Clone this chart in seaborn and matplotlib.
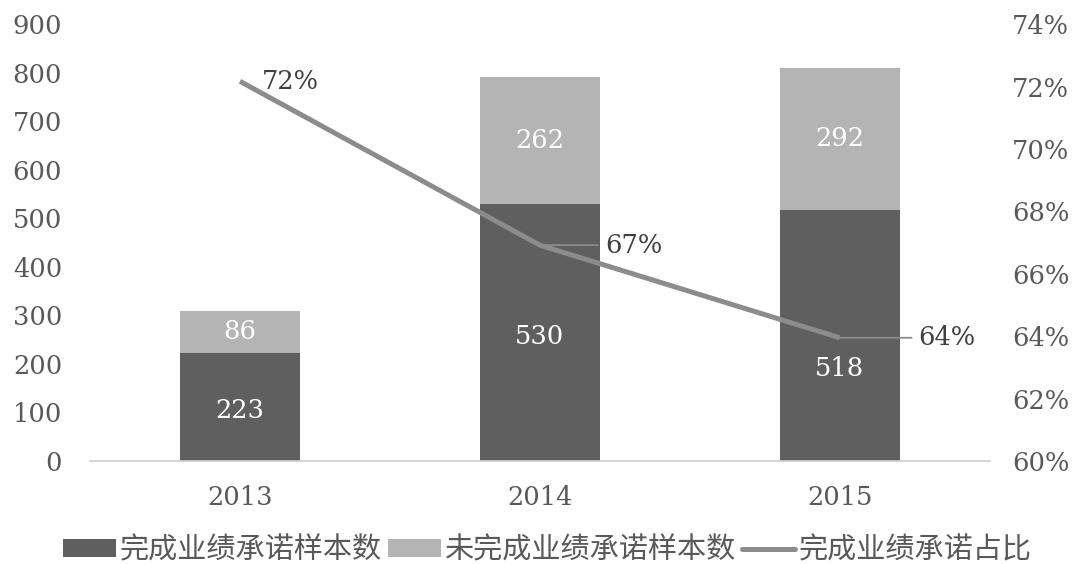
import matplotlib
matplotlib.use("Agg")
import matplotlib.pyplot as plt
import seaborn as sns
import pandas as pd
import numpy as np
from matplotlib.patches import Patch
from matplotlib.lines import Line2D

years = ["2013", "2014", "2015"]
done = [223, 530, 518]
undone = [86, 262, 292]
ratio = [0.7217, 0.6692, 0.6395]
ratio_labels = ["72%", "67%", "64%"]
left_ticks = [0, 100, 200, 300, 400, 500, 600, 700, 800, 900]
right_ticks = [0.60, 0.62, 0.64, 0.66, 0.68, 0.70, 0.72, 0.74]
legend_labels = ["完成业绩承诺样本数", "未完成业绩承诺样本数", "完成业绩承诺占比"]

DARK = "#5f5f5f"
LIGHT = "#b4b4b4"
LINEC = "#8c8c8c"
TXT = "#595959"
SERIF = "DejaVu Serif"
FS = 18.5

sns.set_theme(style="white")
plt.rcParams['font.family'] = ['Noto Sans CJK SC', 'DejaVu Sans']

df = pd.DataFrame({"year": years, "done": done, "undone": undone})
df["total"] = df["done"] + df["undone"]

fig = plt.figure(figsize=(10.78, 5.64), dpi=100)
ax = fig.add_axes([0.0835, 0.1826, 0.8345, 0.7745])

sns.barplot(data=df, x="year", y="total", color=LIGHT, width=0.4, ax=ax,
            saturation=1, edgecolor="none")
sns.barplot(data=df, x="year", y="done", color=DARK, width=0.4, ax=ax,
            saturation=1, edgecolor="none")

ax.set_ylim(0, 900)
ax.set_xlim(-0.5, 2.5)
ax.set_yticks(left_ticks)
ax.set_xlabel("")
ax.set_ylabel("")
for s in ["top", "left", "right"]:
    ax.spines[s].set_visible(False)
ax.spines["bottom"].set_color("#d0d0d0")
ax.spines["bottom"].set_linewidth(1.2)
ax.tick_params(axis="y", length=0, pad=20, labelcolor=TXT, labelsize=FS)
ax.tick_params(axis="x", length=0, pad=17, labelcolor=TXT, labelsize=FS)
for lab in ax.get_yticklabels() + ax.get_xticklabels():
    lab.set_fontfamily(SERIF)

# bar labels
for i in range(len(years)):
    off = -33 if i == 2 else -4
    ax.annotate(str(done[i]), (i, done[i] / 2), xytext=(0, off), textcoords="offset pixels",
                ha="center", va="center", color="white", fontsize=FS, family=SERIF)
    ax.annotate(str(undone[i]), (i, done[i] + undone[i] / 2), ha="center", va="center",
                color="white", fontsize=FS, family=SERIF)

ax2 = ax.twinx()
ax2.plot(range(len(years)), ratio, color=LINEC, lw=3.6, solid_capstyle="butt")
ax2.set_ylim(0.60, 0.74)
ax2.set_yticks(right_ticks)
ax2.set_yticklabels([f"{int(round(t*100))}%" for t in right_ticks])
for s in ["top", "left", "right", "bottom"]:
    ax2.spines[s].set_visible(False)
ax2.tick_params(axis="y", length=0, pad=16, labelcolor=TXT, labelsize=FS)
for lab in ax2.get_yticklabels():
    lab.set_fontfamily(SERIF)
ax2.grid(False)
ax.grid(False)

# line labels
ax2.annotate(ratio_labels[0], (0, ratio[0]), xytext=(22, 0), textcoords="offset pixels",
             ha="left", va="center", color="#404040", fontsize=FS, family=SERIF)
leader = [None, 58, 72]
for i in (1, 2):
    ax2.annotate(ratio_labels[i], (i, ratio[i]), xytext=(leader[i] + 7, 0),
                 textcoords="offset pixels", ha="left", va="center",
                 color="#404040", fontsize=FS, family=SERIF)
    ax2.annotate("", (i, ratio[i]), xytext=(leader[i], 0), textcoords="offset pixels",
                 arrowprops=dict(arrowstyle="-", color=LINEC, lw=1.3,
                                 shrinkA=0, shrinkB=0))

handles = [Patch(facecolor=DARK, edgecolor="none"),
           Patch(facecolor=LIGHT, edgecolor="none"),
           Line2D([0], [0], color=LINEC, lw=3.6)]
fig.legend(handles, legend_labels, loc="center", bbox_to_anchor=(0.508, 0.024),
           ncol=3, frameon=False, fontsize=21, handlelength=1.8, handleheight=0.6,
           handletextpad=0.15, columnspacing=0.2, labelcolor=TXT, borderaxespad=0)

fig.savefig("out.png", dpi=100)
